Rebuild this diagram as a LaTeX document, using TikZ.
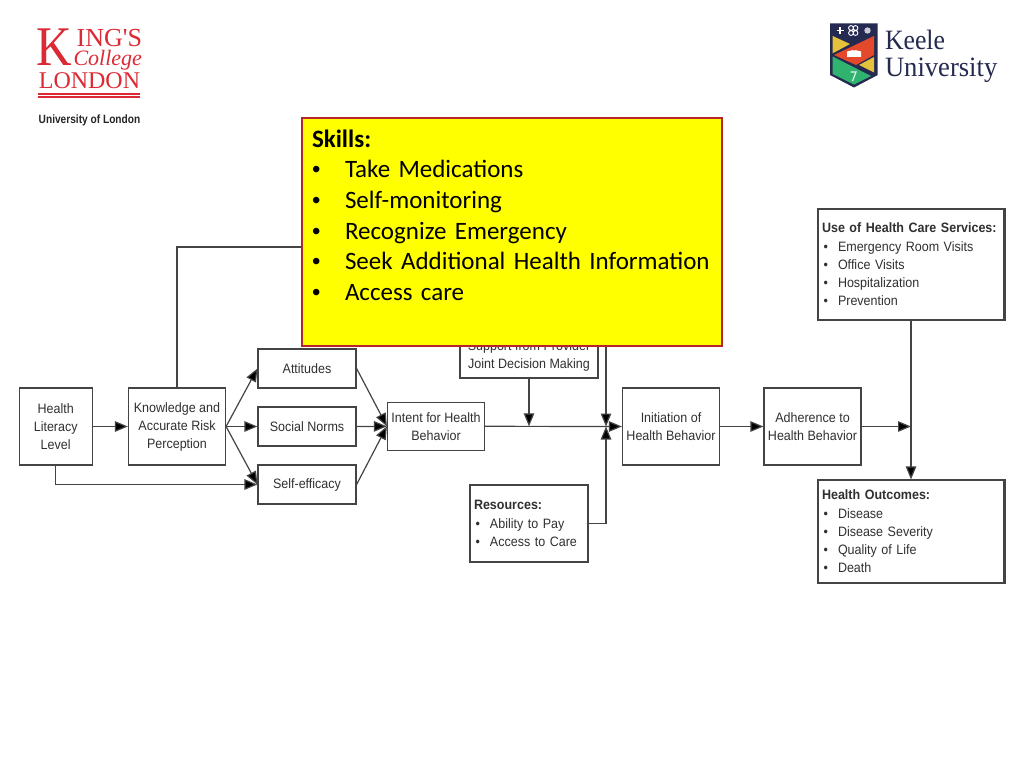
\documentclass[tikz,border=0pt]{standalone}
\usepackage{fontspec}
\usepackage{graphicx}
\setmainfont[FakeStretch=0.92]{Liberation Sans}
\newfontfamily\bulletface{Liberation Sans}
\newfontfamily\serifface{Liberation Serif}
\newfontfamily\calibriface{Carlito}
\usetikzlibrary{arrows.meta}
\hyphenpenalty=10000
\definecolor{ink}{HTML}{444444}
\definecolor{txt}{HTML}{303030}
\definecolor{kcl}{HTML}{DC2A35}
\definecolor{navy}{HTML}{252A50}
\definecolor{kyellow}{HTML}{E4C23C}
\definecolor{kred}{HTML}{E5492C}
\definecolor{kgreen}{HTML}{2FB36F}
\definecolor{skillred}{HTML}{B5262B}
\definecolor{skillyellow}{RGB}{255,255,0}
\newcommand{\itemrow}[1]{\hspace*{1.5pt}\makebox[14.5pt][l]{\textbullet}#1}
\newcommand{\skillrow}[1]{\makebox[33pt][l]{{\bulletface\fontsize{24}{24}\selectfont •}}#1}
\tikzset{
  x=1pt,y=-1pt,
  boxnode/.style={draw=ink,line width=1.2pt,fill=white,text=txt,inner sep=1pt,align=center,
    font=\fontsize{13.6}{18}\selectfont},
  listbox/.style={draw=ink,line width=1.2pt,fill=white,text=txt,inner sep=4pt,align=left,
    font=\fontsize{13.6}{18.3}\selectfont},
  conn/.style={draw=ink,line width=1.2pt},
  arr/.style={conn,-{Triangle[length=13pt,width=10.5pt,fill=black]}},
  plain/.style={inner sep=0pt,outer sep=0pt}
}
\begin{document}
\begin{tikzpicture}
\useasboundingbox (0,0) rectangle (1024,768);
\fill[white] (0,0) rectangle (1024,768);

% King's College logo
\node[plain,text=kcl,anchor=base west] (kclK) at (36.5,66) {\scalebox{0.88}[1]{\serifface\fontsize{56}{56}\selectfont K}};
\node[plain,text=kcl,anchor=base east] (kclI) at (142,47) {\serifface\fontsize{26}{26}\selectfont ING'S};
\node[plain,text=kcl,anchor=base east] (kclC) at (142,65.5) {\serifface\itshape\fontsize{22}{22}\selectfont College};
\node[plain,text=kcl,anchor=base] (kclL) at (89.5,88.5) {\serifface\fontsize{24}{24}\selectfont LONDON};
\fill[kcl] (38,93.2) rectangle (140,94.6);
\fill[kcl] (38,96.0) rectangle (140,97.6);
\node[plain,text=black!85,anchor=base] (kclU) at (89.5,123) {\scalebox{0.92}[1]{\fontsize{12}{12}\selectfont\bfseries University of London}};

% Keele logo
\fill[navy] (830,23.3) -- (877.7,23.3) -- (877.7,75) -- (854,87.5) -- (830,75) -- cycle;
\fill[kyellow] (832.7,36) -- (850,44) -- (832.7,53.3) -- cycle;
\fill[kred] (834,55) -- (874,36) -- (874,55) -- (856,65) -- cycle;
\fill[kyellow] (874,57) -- (874,72.5) -- (859,65) -- cycle;
\fill[kgreen] (832.7,56.5) -- (871,76) -- (854,84.5) -- (832.7,74) -- cycle;
\fill[white] (847,51.5) -- (853,50) -- (854,51) -- (855,50) -- (861,51.5) -- (861,57) -- (847,57) -- cycle;
\draw[white,line width=1.3pt] (840,27.5) -- (840,34.5) (836.5,30.5) -- (843.5,30.5);
\draw[white,line width=0.9pt] (851,28) circle (2.4) (855.5,33) circle (2.4) (851,33) circle (2.4) (855.5,28) circle (2.4);
\fill[white!75!navy] (867.5,30.5) circle (3.2);
\draw[white!85!kgreen,line width=1.2pt] (850.5,72) -- (856,72) -- (852.5,81);
\node[plain,text=navy,anchor=base west] (keeleA) at (885,49.5) {\serifface\fontsize{28}{28}\selectfont\scalebox{0.92}[1]{Keele}};
\node[plain,text=navy,anchor=base west] (keeleB) at (885,76.5) {\serifface\fontsize{28}{28}\selectfont\scalebox{0.95}[1]{University}};

% Diagram boxes
\node[boxnode,minimum width=73pt,minimum height=77pt] (hl) at (55.7,426.5) {Health\\Literacy\\Level};
\node[boxnode,minimum width=97pt,minimum height=77pt] (know) at (177,426.5) {Knowledge and\\Accurate Risk\\Perception};
\node[boxnode,minimum width=98pt,minimum height=39pt] (att) at (307,368.5) {Attitudes};
\node[boxnode,minimum width=98pt,minimum height=39pt] (norm) at (307,426.5) {Social Norms};
\node[boxnode,minimum width=98pt,minimum height=39pt] (self) at (307,484.5) {Self-efficacy};
\node[boxnode,minimum width=97pt,minimum height=48pt] (intent) at (436,426.3) {Intent for Health\\Behavior};
\node[boxnode,minimum width=138pt,minimum height=44pt] (support) at (529,356) {Support from Provider\\Joint Decision Making};
\node[boxnode,minimum width=97pt,minimum height=77pt] (init) at (671,426.5) {Initiation of\\Health Behavior};
\node[boxnode,minimum width=97pt,minimum height=77pt] (adh) at (812.5,426.5) {Adherence to\\Health Behavior};
\node[listbox,minimum height=77pt,text width=110pt] (res) at (529,523.5) {\textbf{Resources:}\\\itemrow{Ability to Pay}\\\itemrow{Access to Care}};
\node[listbox,minimum height=111pt,text width=178pt] (use) at (911,264.5) {\textbf{Use of Health Care Services:}\\\itemrow{Emergency Room Visits}\\\itemrow{Office Visits}\\\itemrow{Hospitalization}\\\itemrow{Prevention}};
\node[listbox,minimum height=103pt,text width=178pt] (out) at (911,531.5) {\textbf{Health Outcomes:}\\\itemrow{Disease}\\\itemrow{Disease Severity}\\\itemrow{Quality of Life}\\\itemrow{Death}};
\draw[conn,line width=2.4pt] (use.north east) -- (use.south east);
\draw[conn,line width=2.4pt] (out.north east) -- (out.south east);

% Junction and free-end coordinates
\coordinate (j1) at (support.south |- intent.east);
\coordinate (j2) at (606,426.5);
\coordinate (j3) at (use.south |- adh.east);
\coordinate (topleft) at (177,247);
\coordinate (topright) at (606,247);

% Connectors
\draw[arr] (hl.east) -- (know.west);
\draw[arr] (know.east) -- (att.west);
\draw[arr] (know.east) -- (norm.west);
\draw[arr] (know.east) -- (self.west);
\draw[arr] (hl.south) |- (self.west);
\draw[arr] (att.east) -- (intent.west);
\draw[arr] (norm.east) -- (intent.west);
\draw[arr] (self.east) -- (intent.west);
\draw[arr] (intent.east) -- (init.west);
\draw[arr] (support.south) -- (j1);
\draw[conn] (know.north) -- (topleft) -- (topright);
\draw[arr] (topright) -- (j2);
\draw[arr] (res.east) -| (j2);
\draw[arr] (init.east) -- (adh.west);
\draw[arr] (adh.east) -- (j3);
\draw[arr] (use.south) -- (out.north);

% Skills overlay
\node[draw=skillred,line width=1.6pt,fill=skillyellow,minimum width=420pt,minimum height=228pt,outer sep=0pt,anchor=center] (skills) at (512,232) {};
\node[plain,text=black,anchor=north west,align=left,text width=400pt,
  font=\calibriface\fontsize{25}{30.7}\selectfont] (skilltext) at (312,129.5)
  {\textbf{Skills:}\\
   \skillrow{Take Medications}\\
   \skillrow{Self-monitoring}\\
   \skillrow{Recognize Emergency}\\
   \skillrow{Seek Additional Health Information}\\
   \skillrow{Access care}};
\end{tikzpicture}
\end{document}
